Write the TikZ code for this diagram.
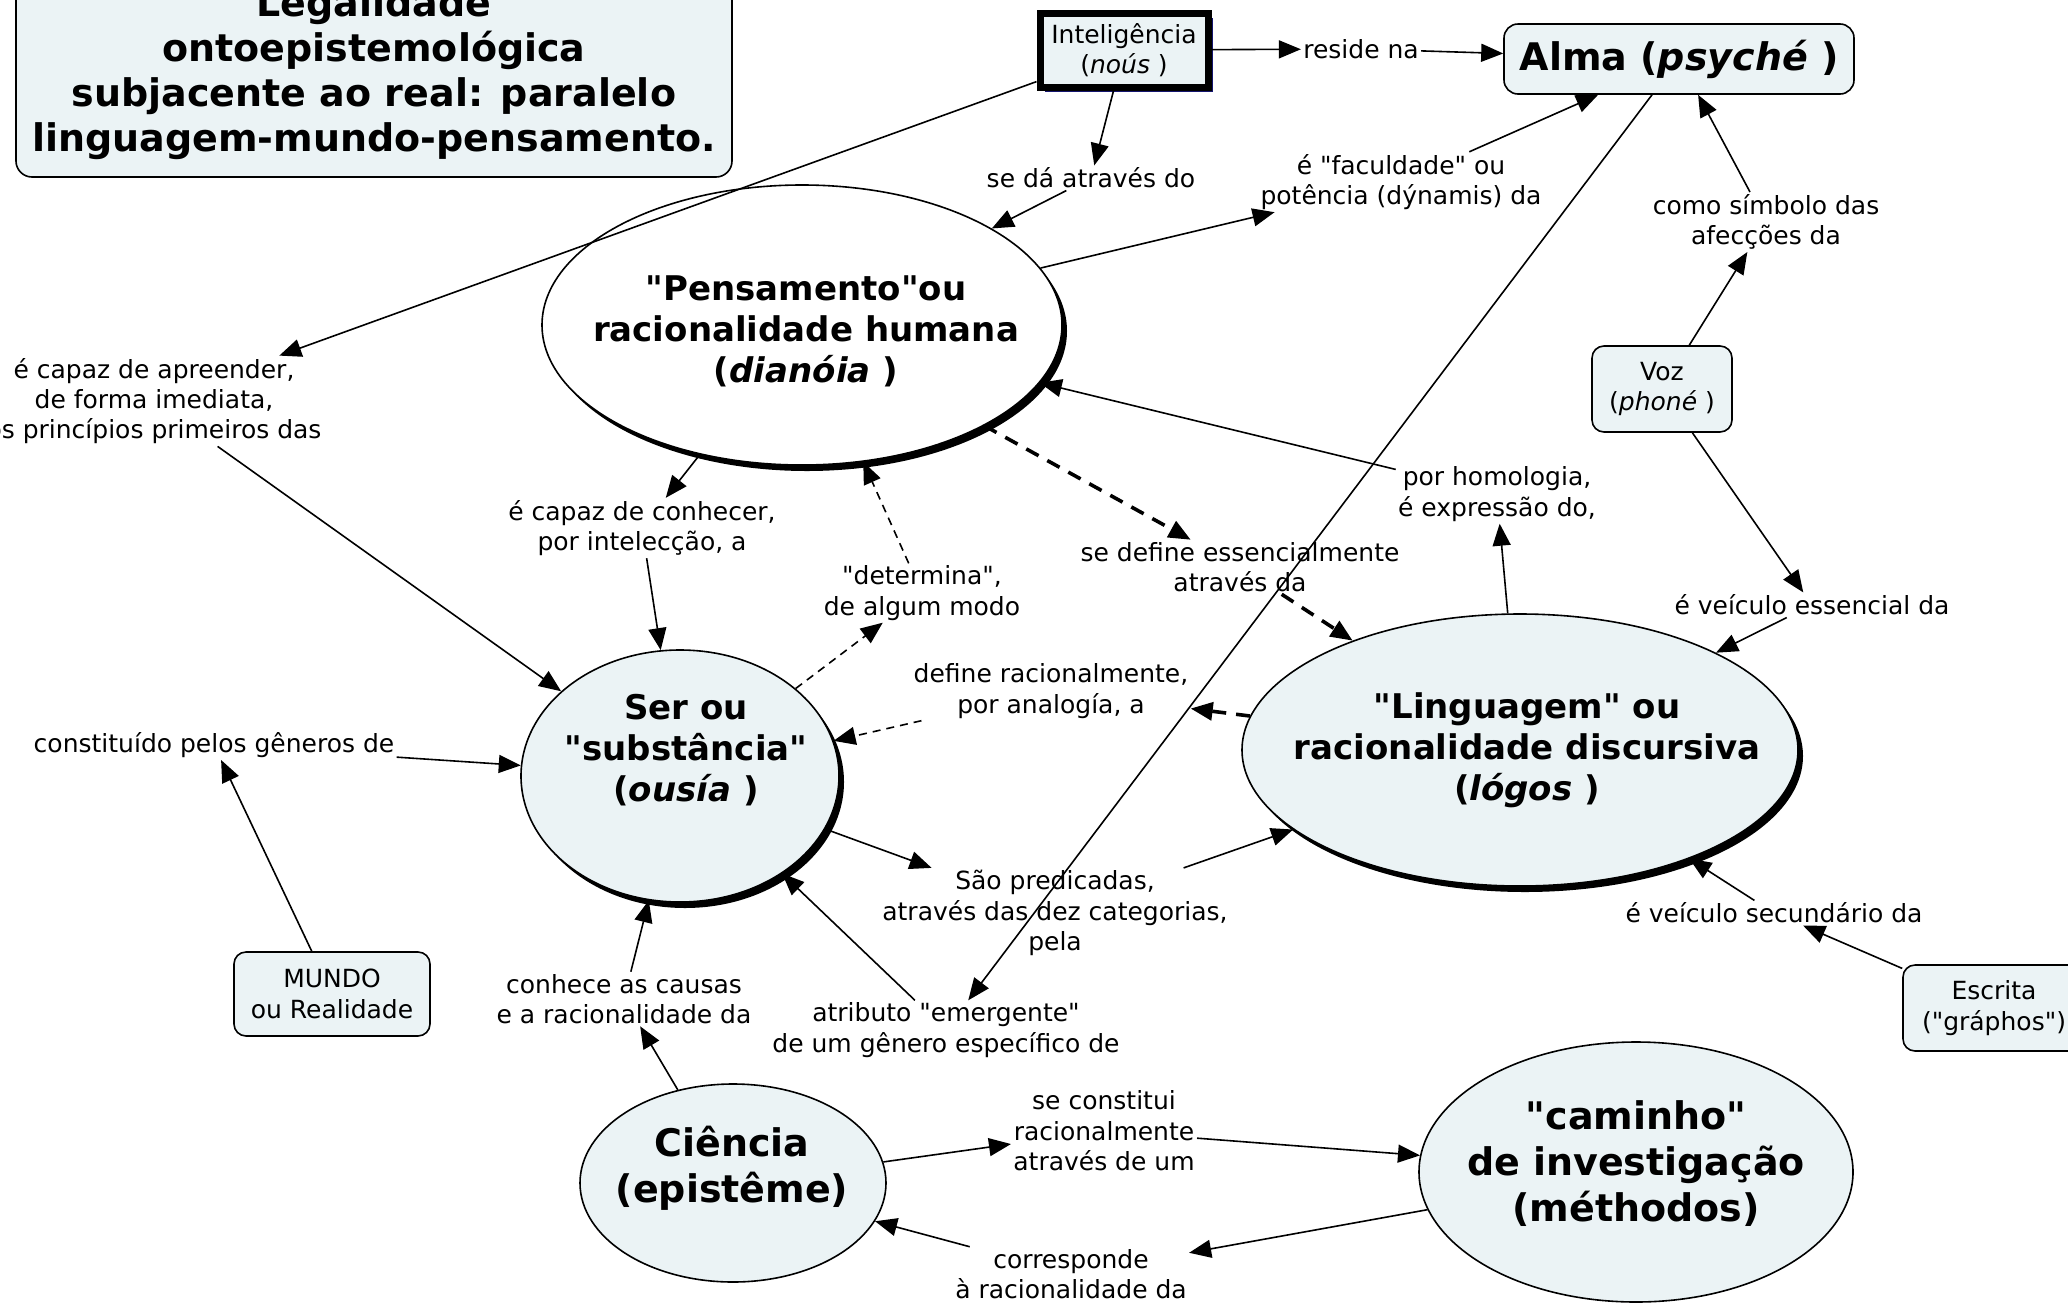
\documentclass[tikz,border=0pt]{standalone}
\usepackage{fontspec}
\setmainfont{DejaVu Sans}[Ligatures=TeXOff]
\usetikzlibrary{arrows.meta,shapes.geometric,shadows}
\definecolor{cfill}{HTML}{EBF3F5}
\definecolor{cnavy}{HTML}{14146E}
\newcommand\lblfont{\fontsize{12.5pt}{15.2pt}\selectfont}
\newcommand\ovalfont{\fontsize{17pt}{20.5pt}\selectfont\bfseries}
\newcommand\bigfont{\fontsize{19pt}{23pt}\selectfont\bfseries}
\newcommand\titlefont{\fontsize{19pt}{22.5pt}\selectfont\bfseries}
\tikzset{
  lbl/.style        = {font=\lblfont, align=center, inner sep=1pt},
  cbox/.style       = {draw, fill=cfill, rounded corners=6pt, line width=0.8pt,
                       font=\lblfont, align=center},
  oval/.style       = {draw, ellipse, fill=cfill, inner sep=0pt, line width=0.8pt},
  ovaltext/.style   = {font=\ovalfont, align=center, inner sep=0pt},
  castshadow/.style = {drop shadow={shadow xshift=2.5pt, shadow yshift=-3pt,
                       opacity=1, fill=black}},
  link/.style       = {-{Triangle[length=11pt,width=9pt]}, line width=0.8pt},
  thinlink/.style   = {link, dash pattern=on 4pt off 3pt},
  thicklink/.style  = {link, line width=1.8pt, dash pattern=on 7pt off 5pt},
}

\begin{document}
\begin{tikzpicture}[x=0.5pt, y=-0.5pt]
\fill[white] (0,0) rectangle (2068,1302);
\useasboundingbox (0,0) rectangle (2068,1302);
% ---- title ----
\node[cbox, rounded corners=8pt, font=\titlefont, minimum width=358pt,
      minimum height=103pt] (title) at (374,74)
  {Legalidade\\ontoepistemológica\\subjacente ao real: paralelo\\linguagem-mundo-pensamento.};
% ---- boxes ----
\node[draw, fill=cfill, line width=3.5pt, minimum width=84pt, minimum height=37pt,
      font=\lblfont, align=center,
      drop shadow={shadow xshift=2.5pt, shadow yshift=-2.5pt, opacity=1, fill=cnavy}]
      (intel) at (1124,50) {Inteligência\\(\textit{noús} )};
\node[cbox, rounded corners=7pt, font=\bigfont, minimum width=175pt,
      minimum height=35pt] (alma) at (1679,59) {Alma (\textit{psyché} )};
\node[cbox, minimum width=70pt, minimum height=43pt] (voz) at (1662,389)
  {Voz\\(\textit{phoné} )};
\node[cbox, minimum width=91pt, minimum height=43pt] (escrita) at (1994,1008)
  {Escrita\\("gráphos")};
\node[cbox, minimum width=98pt, minimum height=42pt] (mundo) at (332,994)
  {MUNDO\\ou Realidade};
% ---- ellipses ----
\node[oval, fill=white, castshadow, minimum width=260pt, minimum height=140pt]
      (pens) at (802,325) {};
\node[ovaltext] (pens-t) at (806,331)
  {"Pensamento"ou\\racionalidade humana\\(\textit{dianóia} )};
\node[oval, castshadow, minimum width=159pt, minimum height=126pt] (ser) at (680,776) {};
\node[ovaltext] (ser-t) at (686,750) {Ser ou\\"substância"\\(\textit{ousía} )};
\node[oval, castshadow, minimum width=278pt, minimum height=136pt] (ling) at (1520,750) {};
\node[ovaltext] (ling-t) at (1527,750)
  {"Linguagem" ou\\racionalidade discursiva\\(\textit{lógos} )};
\node[oval, minimum width=153pt, minimum height=99pt] (ciencia) at (733,1183) {};
\node[ovaltext, font=\bigfont] (ciencia-t) at (732,1168) {Ciência\\(epistême)};
\node[oval, minimum width=217pt, minimum height=130pt] (caminho) at (1636,1172) {};
\node[ovaltext, font=\bigfont] (caminho-t) at (1636,1164)
  {"caminho"\\de investigação\\(méthodos)};
% ---- linking phrases ----
\node[lbl] (reside) at (1361,49) {reside na};
\node[lbl] (seda) at (1091,178) {se dá através do};
\node[lbl] (faculdade) at (1401,182) {é "faculdade" ou\\potência (dýnamis) da};
\node[lbl] (simbolo) at (1766,222) {como símbolo das\\afecções da};
\node[lbl] (apreender) at (154,401)
  {é capaz de apreender,\\de forma imediata,\\os princípios primeiros das};
\node[lbl] (conhecer) at (642,528) {é capaz de conhecer,\\por intelecção, a};
\node[lbl] (determina) at (922,593) {"determina",\\de algum modo};
\node[lbl] (define) at (1240,567) {se define essencialmente\\através da};
\node[lbl] (homologia) at (1497,494) {por homologia,\\é expressão do,};
\node[lbl] (essencial) at (1812,605) {é veículo essencial da};
\node[lbl] (analogia) at (1051,691) {define racionalmente,\\por analogía, a};
\node[lbl] (generos) at (214,745) {constituído pelos gêneros de};
\node[lbl] (predicadas) at (1055,913)
  {São predicadas,\\através das dez categorias,\\pela};
\node[lbl] (secundario) at (1774,913) {é veículo secundário da};
\node[lbl] (causas) at (624,999) {conhece as causas\\e a racionalidade da};
\node[lbl] (atributo) at (946,1030) {atributo "emergente"\\de um gênero específico de};
\node[lbl] (constitui) at (1104,1131) {se constitui\\racionalmente\\através de um};
\node[lbl] (corresponde) at (1071,1274) {corresponde\\à racionalidade da};
% ---- connectors ----
\draw[link] (intel) -- (reside);
\draw[link] (reside) -- (alma);
\draw[link] (intel) -- (seda);
\draw[link] (seda) -- (pens);
\draw[link] (intel) -- (apreender);
\draw[link] (apreender) -- (ser);
\draw[link] (pens) -- (faculdade);
\draw[link] (faculdade) -- (alma);
\draw[link] (alma) -- (atributo);
\draw[link] (voz) -- (simbolo);
\draw[link] (simbolo) -- (alma);
\draw[link] (voz) -- (essencial);
\draw[link] (essencial) -- (ling);
\draw[link] (ling) -- (homologia);
\draw[link] (homologia) -- (pens);
\draw[link] (pens) -- (conhecer);
\draw[link] (conhecer) -- (ser);
\draw[thinlink] (ser) -- (determina);
\draw[thinlink] (determina) -- (pens);
\draw[thicklink] (pens) -- (define);
\draw[thicklink] (define) -- (ling);
\draw[thicklink] (ling) -- (analogia);
\draw[thinlink] (analogia) -- (ser);
\draw[link] (ser) -- (predicadas);
\draw[link] (predicadas) -- (ling);
\draw[link] (mundo) -- (generos);
\draw[link] (generos) -- (ser);
\draw[link] (escrita) -- (secundario);
\draw[link] (secundario) -- (ling);
\draw[link] (ciencia) -- (causas);
\draw[link] (causas) -- (ser);
\draw[link] (atributo) -- (ser);
\draw[link] (ciencia) -- (constitui);
\draw[link] (constitui) -- (caminho);
\draw[link] (caminho) -- (corresponde);
\draw[link] (corresponde) -- (ciencia);
\end{tikzpicture}
\end{document}
